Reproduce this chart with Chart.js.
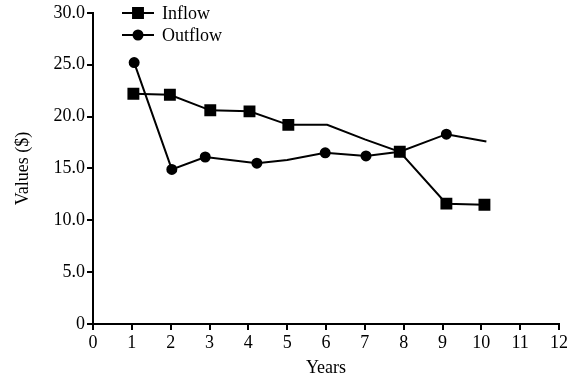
<!DOCTYPE html>
<html lang="en">
<head>
    <meta charset="UTF-8">
    <title>Inflow / Outflow</title>
    <script src="https://cdn.jsdelivr.net/npm/chart.js"></script>
    <style>
        html, body { margin: 0; padding: 0; background: #fff; }
        .box { width: 570px; height: 379px; }
    </style>
</head>
<body>
    <div class="box">
        <canvas id="flowChart"></canvas>
    </div>
    <script>
        const inflowYears = [1.04, 1.98, 3.02, 4.03, 5.03, 6.03, 7.0, 7.9, 9.1, 10.08];
        const inflowValues = [22.2, 22.1, 20.6, 20.5, 19.2, 19.2, 17.8, 16.6, 11.6, 11.5];
        const outflowYears = [1.06, 2.03, 2.89, 4.22, 5.0, 5.98, 7.03, 7.9, 9.1, 10.13];
        const outflowValues = [25.2, 14.9, 16.1, 15.5, 15.8, 16.5, 16.2, 16.6, 18.3, 17.6];
        const xTicks = [0, 1, 2, 3, 4, 5, 6, 7, 8, 9, 10, 11, 12];
        const yTicks = [0, 5, 10, 15, 20, 25, 30];

        // points drawn without a marker
        const inflowPlain = [5, 6];
        const outflowPlain = [4, 9];

        const serif = '"Liberation Serif", "Times New Roman", serif';

        function toPoints(xs, ys) {
            return xs.map((x, i) => ({ x: x, y: ys[i] }));
        }

        // legend drawn as line + marker, like the original
        const lineLegend = {
            id: 'lineLegend',
            afterDraw(chart) {
                const ctx = chart.ctx;
                const items = [
                    { text: 'Inflow', style: 'rect', r: 7, y: 13 },
                    { text: 'Outflow', style: 'circle', r: 4.5, y: 35 }
                ];
                ctx.save();
                items.forEach(item => {
                    ctx.strokeStyle = '#000';
                    ctx.fillStyle = '#000';
                    ctx.lineWidth = 2;
                    ctx.beginPath();
                    ctx.moveTo(122, item.y);
                    ctx.lineTo(154, item.y);
                    ctx.stroke();
                    Chart.helpers.drawPoint(ctx, { pointStyle: item.style, radius: item.r, borderWidth: 1 }, 138, item.y);
                    ctx.fill();
                    ctx.font = '18px ' + serif;
                    ctx.textBaseline = 'middle';
                    ctx.fillText(item.text, 162, item.y + 1);
                });
                ctx.restore();
            }
        };

        new Chart(document.getElementById('flowChart'), {
            type: 'line',
            data: {
                datasets: [
                    {
                        label: 'Inflow',
                        data: toPoints(inflowYears, inflowValues),
                        borderColor: '#000',
                        backgroundColor: '#000',
                        borderWidth: 2,
                        pointStyle: 'rect',
                        pointRadius: c => inflowPlain.includes(c.dataIndex) ? 0 : 7,
                        tension: 0
                    },
                    {
                        label: 'Outflow',
                        data: toPoints(outflowYears, outflowValues),
                        borderColor: '#000',
                        backgroundColor: '#000',
                        borderWidth: 2,
                        pointStyle: 'circle',
                        pointRadius: c => outflowPlain.includes(c.dataIndex) ? 0 : 4.5,
                        tension: 0
                    }
                ]
            },
            options: {
                responsive: true,
                maintainAspectRatio: false,
                animation: false,
                layout: { padding: { top: 11, right: 11, left: 0, bottom: 0 } },
                plugins: {
                    legend: { display: false },
                    tooltip: { enabled: false }
                },
                scales: {
                    x: {
                        type: 'linear',
                        min: 0,
                        max: 12,
                        afterBuildTicks: axis => { axis.ticks = xTicks.map(v => ({ value: v })); },
                        afterFit: axis => { axis.height = 55; },
                        ticks: {
                            color: '#000',
                            padding: 2,
                            font: { family: serif, size: 18 }
                        },
                        grid: {
                            drawOnChartArea: false,
                            color: '#000',
                            lineWidth: 2,
                            tickLength: 6
                        },
                        border: { color: '#000', width: 2 },
                        title: {
                            display: true,
                            text: 'Years',
                            color: '#000',
                            padding: { top: 0, bottom: 0 },
                            font: { family: serif, size: 18 }
                        }
                    },
                    y: {
                        min: 0,
                        max: 30,
                        afterBuildTicks: axis => { axis.ticks = yTicks.map(v => ({ value: v })); },
                        afterFit: axis => { axis.width = 93; },
                        ticks: {
                            color: '#000',
                            padding: 2,
                            font: { family: serif, size: 18 },
                            callback: v => v === 0 ? '0' : v.toFixed(1)
                        },
                        grid: {
                            drawOnChartArea: false,
                            color: '#000',
                            lineWidth: 2,
                            tickLength: 6
                        },
                        border: { color: '#000', width: 2 },
                        title: {
                            display: true,
                            text: 'Values ($)',
                            color: '#000',
                            padding: { top: 12, bottom: 0 },
                            font: { family: serif, size: 18 }
                        }
                    }
                }
            },
            plugins: [lineLegend]
        });
    </script>
</body>
</html>
